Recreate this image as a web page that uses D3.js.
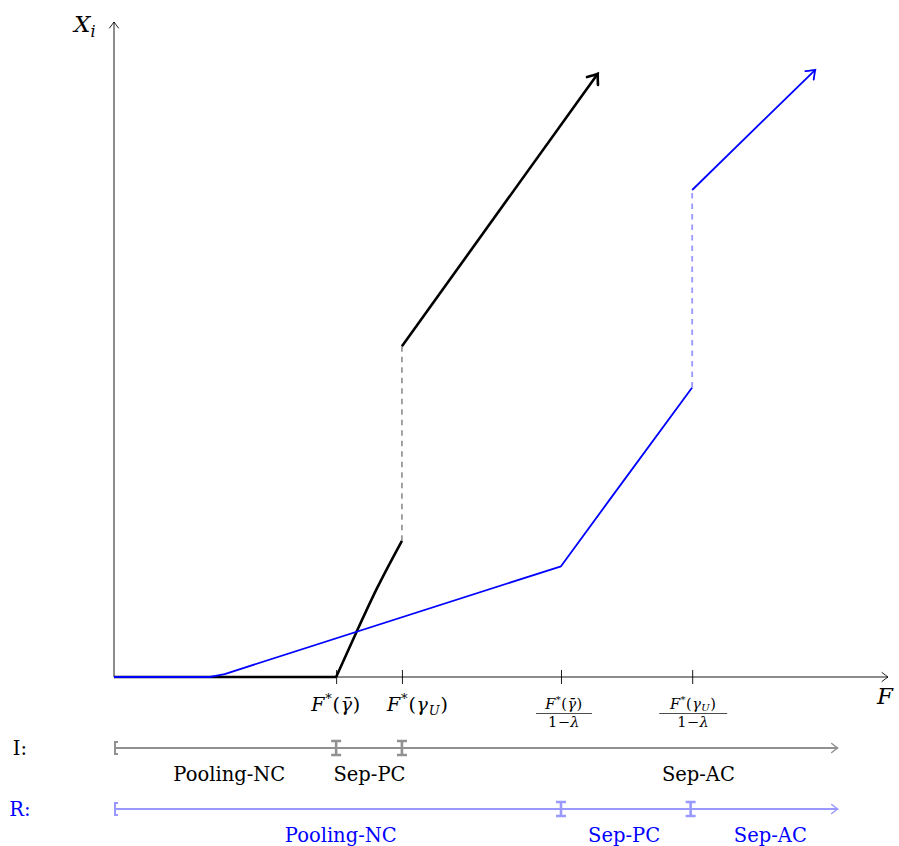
<!DOCTYPE html>
<html>
<head>
<meta charset="utf-8">
<script src="https://cdn.jsdelivr.net/npm/d3@7"></script>
<style>
  body { margin: 0; background: #fff; }
  text { font-family: "DejaVu Serif", "Liberation Serif", serif; }
</style>
</head>
<body>
<script>
// Thresholds on the F axis (axis runs 0..100)
const tickValues = [28.7, 37.2, 57.75, 74.7];

// Informed (I) curve, black
const iFlat = [[0, 0], [28.7, 0]];
const iRamp = [[28.7, 0], [31.3, 6.8], [34.0, 13.6], [37.2, 20.8]];
const iJump = [[37.2, 20.8], [37.2, 50.5]];
const iHigh = [[37.2, 50.5], [62.5, 92.1]];

// Regulated (R) curve, blue
const rLow = [[0, 0], [12.4, 0], [14.3, 0.45], [57.75, 16.9], [64.0, 27.0], [74.7, 44.2]];
const rJump = [[74.7, 44.2], [74.7, 74.35]];
const rHigh = [[74.7, 74.35], [90.6, 92.7]];

// Regime bands below the axis
const iBreaks = [28.7, 37.2];
const iLabels = [["Pooling-NC", 14.9], ["Sep-PC", 33.0], ["Sep-AC", 75.5]];
const rBreaks = [57.75, 74.5];
const rLabels = [["Pooling-NC", 29.3], ["Sep-PC", 65.9], ["Sep-AC", 84.8]];
const bandEnd = 93.5;

const width = 899, height = 846;

const svg = d3.select('body').append('svg')
    .attr('width', width)
    .attr('height', height);

const x = d3.scaleLinear().domain([0, 100]).range([114, 888]);
const y = d3.scaleLinear().domain([0, 100]).range([677, 22]);

const line = d3.line().x(d => x(d[0])).y(d => y(d[1]));
const smooth = d3.line().x(d => x(d[0])).y(d => y(d[1])).curve(d3.curveMonotoneX);

// tikz-like open arrow head at the end of a segment
function arrowHead(g, p0, p1, size, color, w) {
  const a = Math.atan2(p1[1] - p0[1], p1[0] - p0[0]);
  const back = (s, t) => [p1[0] - Math.cos(a) * s + Math.cos(a + Math.PI / 2) * t,
                          p1[1] - Math.sin(a) * s + Math.sin(a + Math.PI / 2) * t];
  const l = back(size, size * 0.75), r = back(size, -size * 0.75);
  const cl = back(size * 0.3, size * 0.2), cr = back(size * 0.3, -size * 0.2);
  g.append('path')
    .attr('d', `M${l[0]},${l[1]} Q${cl[0]},${cl[1]} ${p1[0]},${p1[1]} Q${cr[0]},${cr[1]} ${r[0]},${r[1]}`)
    .attr('fill', 'none')
    .attr('stroke', color)
    .attr('stroke-width', w)
    .attr('stroke-linecap', 'round');
}

// Axes
const axes = svg.append('g');
axes.append('line')
    .attr('x1', x(0)).attr('y1', y(0)).attr('x2', x(100)).attr('y2', y(0))
    .attr('stroke', '#000').attr('stroke-width', 0.9);
arrowHead(axes, [x(0), y(0)], [x(100), y(0)], 6, '#000', 0.9);
axes.append('line')
    .attr('x1', x(0)).attr('y1', y(0)).attr('x2', x(0)).attr('y2', y(100))
    .attr('stroke', '#000').attr('stroke-width', 0.9);
arrowHead(axes, [x(0), y(0)], [x(0), y(100)], 6, '#000', 0.9);

const xAxis = svg.append('g')
    .attr('transform', `translate(0,${y(0)})`)
    .call(d3.axisBottom(x).tickValues(tickValues).tickSize(7).tickFormat(''));
xAxis.select('.domain').remove();
xAxis.selectAll('.tick line').attr('y1', -7).attr('y2', 7).attr('stroke', '#000').attr('stroke-width', 0.9);

// axis names
svg.append('text').attr('x', 74).attr('y', 32)
    .style('font-size', '23px').style('font-style', 'italic')
    .html('X<tspan dy="5" font-size="16">i</tspan>');
svg.append('text').attr('x', 877).attr('y', 704)
    .style('font-size', '23px').style('font-style', 'italic').text('F');

// tick labels
const tl = svg.append('g').style('font-size', '19px').style('letter-spacing', '0.8px');
const lab1 = tl.append('text').attr('x', x(tickValues[0])).attr('y', 711).attr('text-anchor', 'middle');
lab1.append('tspan').style('font-style', 'italic').text('F');
lab1.append('tspan').attr('dy', -8).style('font-size', '13px').text('*');
lab1.append('tspan').attr('dy', 8).text('(');
lab1.append('tspan').style('font-style', 'italic').text('γ\u0304');
lab1.append('tspan').text(')');

const lab2 = tl.append('text').attr('x', x(tickValues[1]) + 16).attr('y', 711).attr('text-anchor', 'middle');
lab2.append('tspan').style('font-style', 'italic').text('F');
lab2.append('tspan').attr('dy', -8).style('font-size', '13px').text('*');
lab2.append('tspan').attr('dy', 8).text('(');
lab2.append('tspan').style('font-style', 'italic').text('γ');
lab2.append('tspan').attr('dy', 4).style('font-style', 'italic').style('font-size', '13px').text('U');
lab2.append('tspan').attr('dy', -4).text(')');

// stacked fraction: numerator and denominator in one text element
function fracLabel(cx, withBar) {
  const g = svg.append('g').style('font-size', '14.5px').style('letter-spacing', '0.5px');
  const t = g.append('text').attr('x', cx).attr('y', 709).attr('text-anchor', 'middle');
  t.append('tspan').style('font-style', 'italic').text('F');
  t.append('tspan').attr('dy', -6).style('font-size', '10px').text('*');
  t.append('tspan').attr('dy', 6).text('(');
  if (withBar) {
    t.append('tspan').style('font-style', 'italic').text('γ\u0304');
    t.append('tspan').text(')');
  } else {
    t.append('tspan').style('font-style', 'italic').text('γ');
    t.append('tspan').attr('dy', 2).style('font-style', 'italic').style('font-size', '10px').text('U');
    t.append('tspan').attr('dy', -2).text(')');
  }
  t.append('tspan').attr('x', cx).attr('dy', 18).text('1\u2212');
  t.append('tspan').style('font-style', 'italic').text('λ');
  const half = withBar ? 28 : 34;
  g.append('line').attr('x1', cx - half).attr('x2', cx + half).attr('y1', 713.5).attr('y2', 713.5)
      .attr('stroke', '#000').attr('stroke-width', 0.7);
}
fracLabel(x(tickValues[2]) + 3, true);
fracLabel(x(tickValues[3]) + 1, false);

// I curve (black)
const iG = svg.append('g');
iG.append('path').attr('d', line(iFlat)).attr('fill', 'none').attr('stroke', '#000').attr('stroke-width', 2.6);
iG.append('path').attr('d', line(iJump)).attr('fill', 'none').attr('stroke', '#999')
    .attr('stroke-width', 1.8).attr('stroke-dasharray', '5.5,5');
iG.append('path').attr('d', line(iHigh)).attr('fill', 'none').attr('stroke', '#000').attr('stroke-width', 2.6);
arrowHead(iG, [x(iHigh[0][0]), y(iHigh[0][1])], [x(iHigh[1][0]), y(iHigh[1][1])], 9, '#000', 2.6);

// R curve (blue)
const rG = svg.append('g');
rG.append('path').attr('d', line(rLow)).attr('fill', 'none').attr('stroke', '#0000ff')
    .attr('stroke-width', 1.8).attr('stroke-linejoin', 'round');
rG.append('path').attr('d', line(rJump)).attr('fill', 'none').attr('stroke', '#9999ff')
    .attr('stroke-width', 1.8).attr('stroke-dasharray', '5.5,5');
rG.append('path').attr('d', line(rHigh)).attr('fill', 'none').attr('stroke', '#0000ff').attr('stroke-width', 1.8);
arrowHead(rG, [x(rHigh[0][0]), y(rHigh[0][1])], [x(rHigh[1][0]), y(rHigh[1][1])], 8, '#0000ff', 1.8);

iG.append('path').attr('d', smooth(iRamp)).attr('fill', 'none').attr('stroke', '#000')
    .attr('stroke-width', 2.6).attr('stroke-linejoin', 'round');

// regime bands
function band(yy, breaks, labels, lineColor, textColor, name) {
  const g = svg.append('g');
  g.append('line').attr('x1', x(0)).attr('x2', x(bandEnd)).attr('y1', yy).attr('y2', yy)
      .attr('stroke', lineColor).attr('stroke-width', 2);
  arrowHead(g, [x(0), yy], [x(bandEnd), yy], 6, lineColor, 1.5);
  // opening bracket
  g.append('path')
      .attr('d', `M${x(0) + 4},${yy - 6} H${x(0) + 1} V${yy + 6} H${x(0) + 4}`)
      .attr('fill', 'none').attr('stroke', lineColor).attr('stroke-width', 2);
  // breakpoint markers
  g.selectAll('.brk').data(breaks).join('path')
      .attr('class', 'brk')
      .attr('d', d => `M${x(d) - 5},${yy - 7} H${x(d) + 5} M${x(d)},${yy - 7} V${yy + 7} M${x(d) - 5},${yy + 7} H${x(d) + 5}`)
      .attr('fill', 'none').attr('stroke', lineColor).attr('stroke-width', 2.6);
  g.selectAll('.lbl').data(labels).join('text')
      .attr('class', 'lbl')
      .attr('x', d => x(d[1])).attr('y', yy + 33)
      .attr('text-anchor', 'middle')
      .attr('fill', textColor)
      .style('font-size', '19.5px')
      .text(d => d[0]);
  g.append('text').attr('x', 20).attr('y', yy + 7).attr('text-anchor', 'middle')
      .attr('fill', textColor).style('font-size', '19.5px').text(name);
}
band(748, iBreaks, iLabels, '#919191', '#000', 'I:');
band(809, rBreaks, rLabels, '#9999ff', '#0000ff', 'R:');
</script>
</body>
</html>
